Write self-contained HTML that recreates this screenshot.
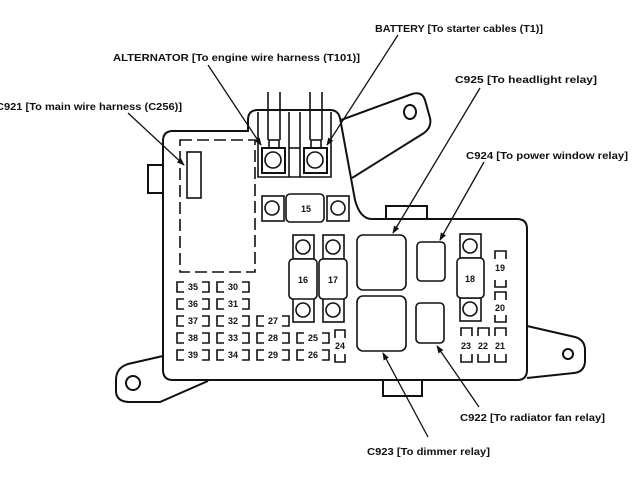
<!DOCTYPE html>
<html><head><style>
html,body{margin:0;padding:0;background:#fff;}
svg{display:block;}
text{font-family:"Liberation Sans",sans-serif;font-weight:bold;fill:#111;}
</style></head><body>
<svg width="640" height="480" viewBox="0 0 640 480" xmlns="http://www.w3.org/2000/svg">
<defs>
<marker id="ah" markerWidth="8" markerHeight="8" refX="7" refY="4" orient="auto" markerUnits="userSpaceOnUse">
<path d="M0,1 L8,4 L0,7 Z" fill="#111"/>
</marker>
</defs>
<g fill="none" stroke="#111" stroke-width="2">
<!-- main body -->
<path d="M173,131 L248,131 L248,120 Q248,110 258,110 L330,110 Q338,110 340,118 L355,200 Q360,219 372,219 L517,219 Q527,219 527,229 L527,370 Q527,380 517,380 L173,380 Q163,380 163,370 L163,141 Q163,131 173,131 Z"/>
<!-- left tab -->
<path d="M163,165 L148,165 L148,193 L163,193"/>
<!-- bottom-left bracket -->
<path d="M163,356 L128,364 Q116,368 116,380 L116,392 Q117,402 130,402 L160,402 L208,381"/>
<circle cx="133" cy="383" r="7"/>
<!-- right bracket -->
<path d="M527,326 L575,337 Q585,340 585,350 L585,362 Q584,372 574,373 L527,378"/>
<circle cx="568" cy="354" r="5"/>
<!-- top-right bracket -->
<path d="M341,120 L412,94 Q422,91 425,100 L430,118 Q432,127 424,133 L352,178"/>
<ellipse cx="410" cy="112" rx="6" ry="7"/>
<!-- tabs -->
<path d="M386,219 L386,206 L427,206 L427,219"/>
<path d="M383,380 L383,396 L422,396 L422,380"/>
</g>
<g fill="none" stroke="#111" stroke-width="1.6">
<!-- top connector area -->
<path d="M258,112 L258,177 L331,177 L331,112"/>
<line x1="289" y1="112" x2="289" y2="177"/>
<line x1="300" y1="112" x2="300" y2="177"/>
<line x1="289" y1="148" x2="300" y2="148"/>
<line x1="268" y1="92" x2="268" y2="140"/><line x1="280" y1="92" x2="280" y2="140"/>
<line x1="310" y1="92" x2="310" y2="140"/><line x1="322" y1="92" x2="322" y2="140"/>
<rect x="269" y="140" width="10" height="8"/><rect x="311" y="140" width="10" height="8"/>
<rect x="262" y="148" width="23" height="25" stroke-width="2"/><circle cx="273" cy="160" r="8"/>
<rect x="304" y="148" width="23" height="25" stroke-width="2"/><circle cx="315" cy="160" r="8"/>
<!-- fuse 15 -->
<rect x="262" y="196" width="22" height="25"/><circle cx="272" cy="208" r="7"/>
<rect x="327" y="196" width="22" height="25"/><circle cx="338" cy="208" r="7"/>
<rect x="286" y="194" width="38" height="28" rx="4" fill="#fff"/>
<!-- dashed -->
<rect x="180" y="140" width="75" height="132" stroke-dasharray="12,5"/>
<rect x="187" y="152" width="14" height="46"/>
<!-- fuse 16,17 -->
<rect x="293" y="235" width="21" height="24"/><circle cx="303" cy="247" r="7"/>
<rect x="293" y="298" width="21" height="24"/><circle cx="303" cy="310" r="7"/>
<rect x="289" y="259" width="28" height="40" rx="4" fill="#fff"/>
<rect x="323" y="235" width="21" height="24"/><circle cx="333" cy="247" r="7"/>
<rect x="323" y="298" width="21" height="24"/><circle cx="333" cy="310" r="7"/>
<rect x="319" y="259" width="28" height="40" rx="4" fill="#fff"/>
<!-- relays -->
<rect x="357" y="235" width="49" height="55" rx="6"/>
<rect x="357" y="296" width="49" height="55" rx="6"/>
<rect x="417" y="242" width="28" height="39" rx="4"/>
<rect x="416" y="303" width="28" height="40" rx="4"/>
<!-- fuse 18 -->
<rect x="460" y="234" width="21" height="24"/><circle cx="470" cy="246" r="7"/>
<rect x="460" y="298" width="21" height="23"/><circle cx="470" cy="309" r="7"/>
<rect x="457" y="258" width="27" height="40" rx="4" fill="#fff"/>
<!-- vertical small fuses -->
<path d="M495,259 L495,251 L506,251 L506,259 M495,280 L495,287 L506,287 L506,280"/>
<path d="M495,300 L495,292 L506,292 L506,300 M495,315 L495,322 L506,322 L506,315"/>
<path d="M461,336 L461,328 L472,328 L472,336 M461,354 L461,362 L472,362 L472,354"/>
<path d="M478,336 L478,328 L489,328 L489,336 M478,354 L478,362 L489,362 L489,354"/>
<path d="M495,336 L495,328 L506,328 L506,336 M495,354 L495,362 L506,362 L506,354"/>
<path d="M335,338 L335,330 L345,330 L345,338 M335,354 L335,362 L345,362 L345,354"/>
<!-- horizontal small fuses -->
<g id="b">
<path d="M184,282 L177,282 L177,292 L184,292 M202,282 L209,282 L209,292 L202,292"/>
</g>
<use href="#b" y="17"/><use href="#b" y="34"/><use href="#b" y="51"/><use href="#b" y="68"/>
<use href="#b" x="40"/><use href="#b" x="40" y="17"/><use href="#b" x="40" y="34"/><use href="#b" x="40" y="51"/><use href="#b" x="40" y="68"/>
<use href="#b" x="80" y="34"/><use href="#b" x="80" y="51"/><use href="#b" x="80" y="68"/>
<use href="#b" x="120" y="51"/><use href="#b" x="120" y="68"/>
</g>
<!-- leaders -->
<g stroke="#111" stroke-width="1.3" fill="none" marker-end="url(#ah)">
<line x1="398" y1="35" x2="327" y2="145"/>
<line x1="208" y1="65" x2="261" y2="145"/>
<line x1="128" y1="113" x2="184" y2="165"/>
<line x1="480" y1="88" x2="393" y2="233"/>
<line x1="484" y1="162" x2="440" y2="240"/>
<line x1="479" y1="407" x2="437" y2="346"/>
<line x1="428" y1="437" x2="383" y2="353"/>
</g>
<!-- labels -->
<g font-size="10">
<text x="375" y="32" textLength="168" lengthAdjust="spacingAndGlyphs">BATTERY [To starter cables (T1)]</text>
<text x="113" y="61" textLength="247" lengthAdjust="spacingAndGlyphs">ALTERNATOR [To engine wire harness (T101)]</text>
<text x="-4" y="110" textLength="186" lengthAdjust="spacingAndGlyphs">C921 [To main wire harness (C256)]</text>
<text x="455" y="83" textLength="142" lengthAdjust="spacingAndGlyphs">C925 [To headlight relay]</text>
<text x="466" y="159" textLength="162" lengthAdjust="spacingAndGlyphs">C924 [To power window relay]</text>
<text x="460" y="421" textLength="145" lengthAdjust="spacingAndGlyphs">C922 [To radiator fan relay]</text>
<text x="367" y="455" textLength="123" lengthAdjust="spacingAndGlyphs">C923 [To dimmer relay]</text>
</g>
<g font-size="9" text-anchor="middle">
<text x="306" y="212">15</text>
<text x="303" y="283">16</text>
<text x="333" y="283">17</text>
<text x="470" y="282">18</text>
<text x="500" y="271">19</text>
<text x="500" y="311">20</text>
<text x="466" y="349">23</text>
<text x="483" y="349">22</text>
<text x="500" y="349">21</text>
<text x="340" y="349">24</text>
<text x="193" y="290">35</text><text x="193" y="307">36</text><text x="193" y="324">37</text><text x="193" y="341">38</text><text x="193" y="358">39</text>
<text x="233" y="290">30</text><text x="233" y="307">31</text><text x="233" y="324">32</text><text x="233" y="341">33</text><text x="233" y="358">34</text>
<text x="273" y="324">27</text><text x="273" y="341">28</text><text x="273" y="358">29</text>
<text x="313" y="341">25</text><text x="313" y="358">26</text>
</g>
</svg>
</body></html>
